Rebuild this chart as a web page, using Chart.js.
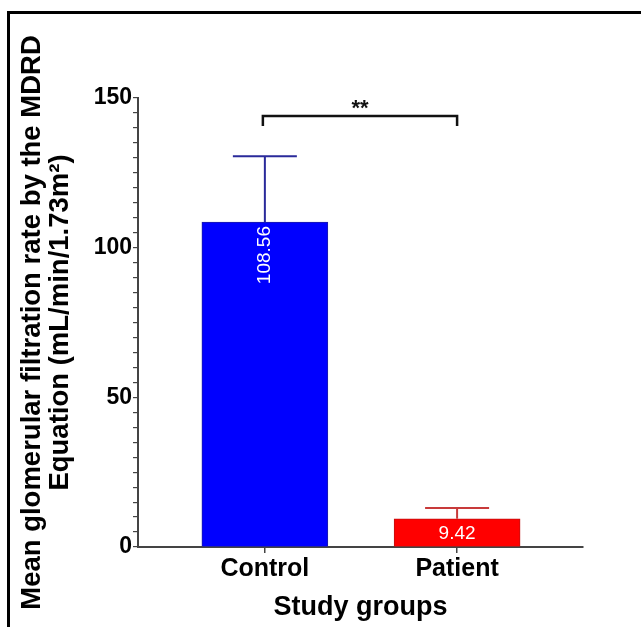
<!DOCTYPE html>
<html>
<head>
<meta charset="utf-8">
<script src="https://cdn.jsdelivr.net/npm/chart.js@4"></script>
<style>
    html, body { margin: 0; padding: 0; background: #fff; overflow: hidden; }
    #wrap { position: relative; width: 641px; height: 627px; }
    #frame {
        position: absolute; left: 7px; top: 11px; width: 700px; height: 700px;
        border: 3px solid #000; box-sizing: border-box; pointer-events: none;
    }
</style>
</head>
<body>
<div id="wrap">
    <canvas id="gfrChart" width="641" height="627"></canvas>
    <div id="frame"></div>
</div>
<script>
// data
const groups = ['Control', 'Patient'];
const meanGfr = [108.56, 9.42];
const errorTop = [130.5, 13.0];
const yTicksMajor = [0, 50, 100, 150];
const significance = '**';

const barColors = ['#0000ff', '#ff0000'];
const barEdges = ['#1c1ca8', '#c01010'];
const whiskerColors = ['#2a2a9a', '#c83a3a'];

const FONT = "'Liberation Sans', Arial, sans-serif";

// error whiskers (upper only)
const errorBars = {
    id: 'errorBars',
    afterDatasetsDraw(chart) {
        const { ctx, scales: { x, y } } = chart;
        ctx.save();
        ctx.lineWidth = 2;
        groups.forEach((g, i) => {
            const px = x.getPixelForValue(i);
            const yMean = y.getPixelForValue(meanGfr[i]);
            const yTop = y.getPixelForValue(errorTop[i]);
            ctx.strokeStyle = whiskerColors[i];
            ctx.beginPath();
            ctx.moveTo(px, yMean);
            ctx.lineTo(px, yTop);
            ctx.moveTo(px - 32, yTop);
            ctx.lineTo(px + 32, yTop);
            ctx.stroke();
        });
        ctx.restore();
    }
};

// values written inside the bars
const valueLabels = {
    id: 'valueLabels',
    afterDatasetsDraw(chart) {
        const { ctx, scales: { x, y } } = chart;
        ctx.save();
        ctx.fillStyle = '#fff';
        ctx.font = '19px ' + FONT;
        const px0 = x.getPixelForValue(0);
        const top0 = y.getPixelForValue(meanGfr[0]);
        ctx.translate(px0, top0 + 4);
        ctx.rotate(-Math.PI / 2);
        ctx.textAlign = 'right';
        ctx.textBaseline = 'middle';
        ctx.fillText(meanGfr[0].toFixed(2), 0, 0);
        ctx.restore();

        ctx.save();
        ctx.fillStyle = '#fff';
        ctx.font = '19px ' + FONT;
        ctx.textAlign = 'center';
        ctx.textBaseline = 'middle';
        const px1 = x.getPixelForValue(1);
        const mid1 = (y.getPixelForValue(meanGfr[1]) + y.getPixelForValue(0)) / 2;
        ctx.fillText(meanGfr[1].toFixed(2), px1, mid1 + 1);
        ctx.restore();
    }
};

// significance bracket between the groups
const sigBracket = {
    id: 'sigBracket',
    afterDraw(chart) {
        const { ctx, scales: { x, y } } = chart;
        const x0 = x.getPixelForValue(0) - 2;
        const x1 = x.getPixelForValue(1);
        const yb = y.getPixelForValue(144);
        ctx.save();
        ctx.strokeStyle = '#111';
        ctx.lineWidth = 2.5;
        ctx.beginPath();
        ctx.moveTo(x0, yb + 10);
        ctx.lineTo(x0, yb);
        ctx.lineTo(x1, yb);
        ctx.lineTo(x1, yb + 10);
        ctx.stroke();
        ctx.fillStyle = '#111';
        ctx.font = 'bold 22px ' + FONT;
        ctx.textAlign = 'center';
        ctx.textBaseline = 'alphabetic';
        ctx.fillText(significance, (x0 + x1) / 2, yb - 1);
        ctx.restore();
    }
};

const ctx = document.getElementById('gfrChart').getContext('2d');
new Chart(ctx, {
    type: 'bar',
    data: {
        datasets: [{
            data: groups.map((g, i) => ({ x: i, y: meanGfr[i] })),
            backgroundColor: barColors,
            borderColor: barEdges,
            borderWidth: 1,
            barThickness: 126
        }]
    },
    options: {
        responsive: false,
        animation: false,
        layout: { padding: { left: 8, top: 98, right: 58, bottom: 0 } },
        plugins: {
            legend: { display: false },
            tooltip: { enabled: false }
        },
        scales: {
            x: {
                type: 'linear',
                offset: false,
                min: -0.66,
                max: 1.655,
                afterBuildTicks: (s) => { s.ticks = groups.map((g, i) => ({ value: i })); },
                afterFit: (s) => { s.height = 80; },
                ticks: {
                    callback: (v) => groups[v],
                    color: '#000',
                    font: { family: FONT, size: 25, weight: 'bold' },
                    padding: 1,
                    maxRotation: 0,
                    autoSkip: false
                },
                grid: {
                    display: true,
                    offset: false,
                    drawOnChartArea: false,
                    drawTicks: true,
                    tickLength: 6,
                    color: '#444',
                    lineWidth: 1.5
                },
                border: { display: true, color: '#444', width: 2 },
                title: {
                    display: true,
                    text: 'Study groups',
                    color: '#000',
                    font: { family: FONT, size: 27, weight: 'bold', lineHeight: 1.2 },
                    padding: { top: 0, bottom: 3 }
                }
            },
            y: {
                min: 0,
                max: 150,
                afterFit: (s) => { s.width = 130; },
                ticks: {
                    stepSize: 5,
                    autoSkip: false,
                    callback: (v) => yTicksMajor.includes(v) ? String(v) : '',
                    color: '#000',
                    font: { family: FONT, size: 23, weight: 'bold' },
                    padding: 1
                },
                grid: {
                    display: true,
                    drawOnChartArea: false,
                    drawTicks: true,
                    tickLength: 5,
                    color: '#444',
                    lineWidth: 1.2
                },
                border: { display: true, color: '#444', width: 2 },
                title: {
                    display: true,
                    text: ['Mean glomerular filtration rate by the MDRD', 'Equation (mL/min/1.73m\u00b2)'],
                    color: '#000',
                    font: { family: FONT, size: 27.5, weight: 'bold', lineHeight: 1.0 },
                    padding: { top: 11, bottom: 0 }
                }
            }
        }
    },
    plugins: [errorBars, valueLabels, sigBracket]
});
</script>
</body>
</html>
